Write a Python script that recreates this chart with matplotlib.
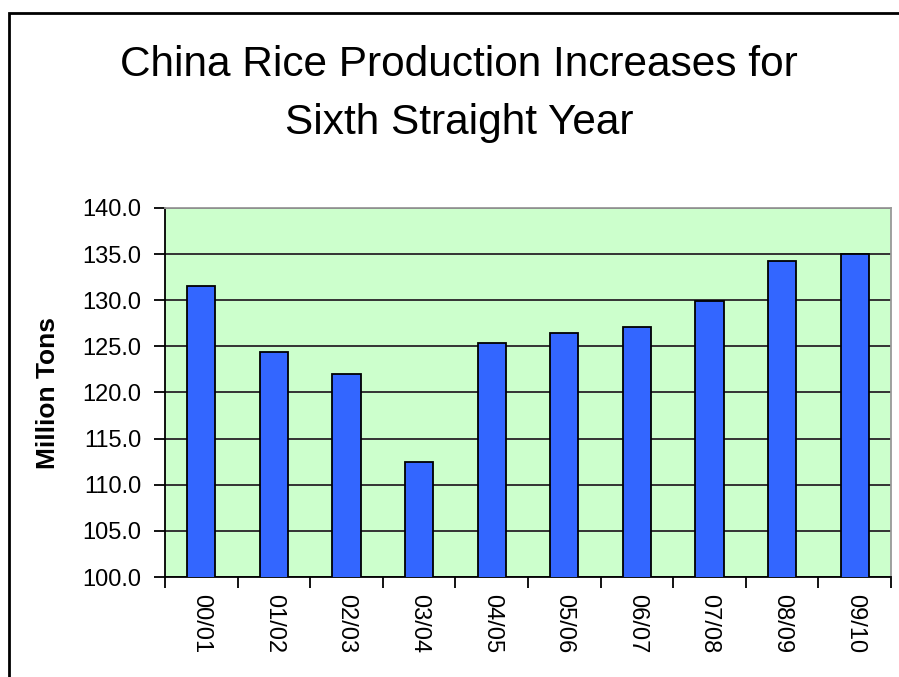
import numpy as np
import matplotlib
matplotlib.use("Agg")
import matplotlib.pyplot as plt
from matplotlib.patches import Rectangle
from matplotlib.ticker import FormatStrFormatter

# data
seasons = ["00/01", "01/02", "02/03", "03/04", "04/05",
           "05/06", "06/07", "07/08", "08/09", "09/10"]
production = [131.5, 124.4, 122.0, 112.5, 125.4,
              126.5, 127.1, 129.9, 134.3, 135.0]
title_lines = ["China Rice Production Increases for", "Sixth Straight Year"]
ylabel = "Million Tons"
yticks = np.arange(100, 140.1, 5)

# colours (excel 2003 style)
c_plot = "#CCFFCC"
c_bar = "#3366FF"
c_grid = "#333333"

plt.rcParams['font.family'] = ['Liberation Sans', 'DejaVu Sans']

fig = plt.figure(figsize=(8.99, 6.77), dpi=100)
ax = fig.add_axes([165 / 899, 100 / 677, 726 / 899, 369 / 677])
ax.set_facecolor(c_plot)

ind = np.arange(len(seasons))
ax.bar(ind, production, 0.39, bottom=0, color=c_bar, edgecolor="black",
       linewidth=1.3, zorder=3)

ax.set_ylim(100, 140)
ax.set_xlim(-0.5, len(seasons) - 0.5)
ax.set_yticks(yticks)
ax.yaxis.set_major_formatter(FormatStrFormatter("%.1f"))
ax.yaxis.grid(True, color=c_grid, linewidth=1.4, zorder=1)
ax.set_axisbelow(True)

# labels in the middle, tick marks on the boundaries
ax.set_xticks(ind)
ax.set_xticklabels(seasons, rotation=270)
ax.set_xticks(np.arange(-0.5, len(seasons)), minor=True)
ax.tick_params(axis="x", which="major", length=0, pad=12, labelsize=17)
ax.tick_params(axis="x", which="minor", length=8, width=1.3, direction="out")
ax.tick_params(axis="y", length=8, width=1.3, direction="out", pad=9,
               labelsize=17)

# borders
ax.spines['left'].set_color('black')
ax.spines['bottom'].set_color('black')
ax.spines['left'].set_linewidth(1.3)
ax.spines['bottom'].set_linewidth(1.3)
ax.spines['top'].set_color('#999999')
ax.spines['right'].set_color('#999999')
ax.spines['top'].set_linewidth(1.3)
ax.spines['right'].set_linewidth(1.3)

fig.text(48 / 899, 1 - 393 / 677, ylabel, rotation=90, ha="center",
         va="center", fontsize=19, fontweight="bold")

fig.text(459 / 899, 1 - 65 / 677, title_lines[0], ha="center", va="center",
         fontsize=30.5)
fig.text(459 / 899, 1 - 123 / 677, title_lines[1], ha="center", va="center",
         fontsize=30.5)

# chart area frame (cut off at right and bottom)
fig.patches.append(Rectangle((9 / 899, -0.1), 1.0, 1.1 - 13 / 677,
                             transform=fig.transFigure, fill=False,
                             edgecolor="black", linewidth=2))

fig.savefig("out.png", dpi=100)
